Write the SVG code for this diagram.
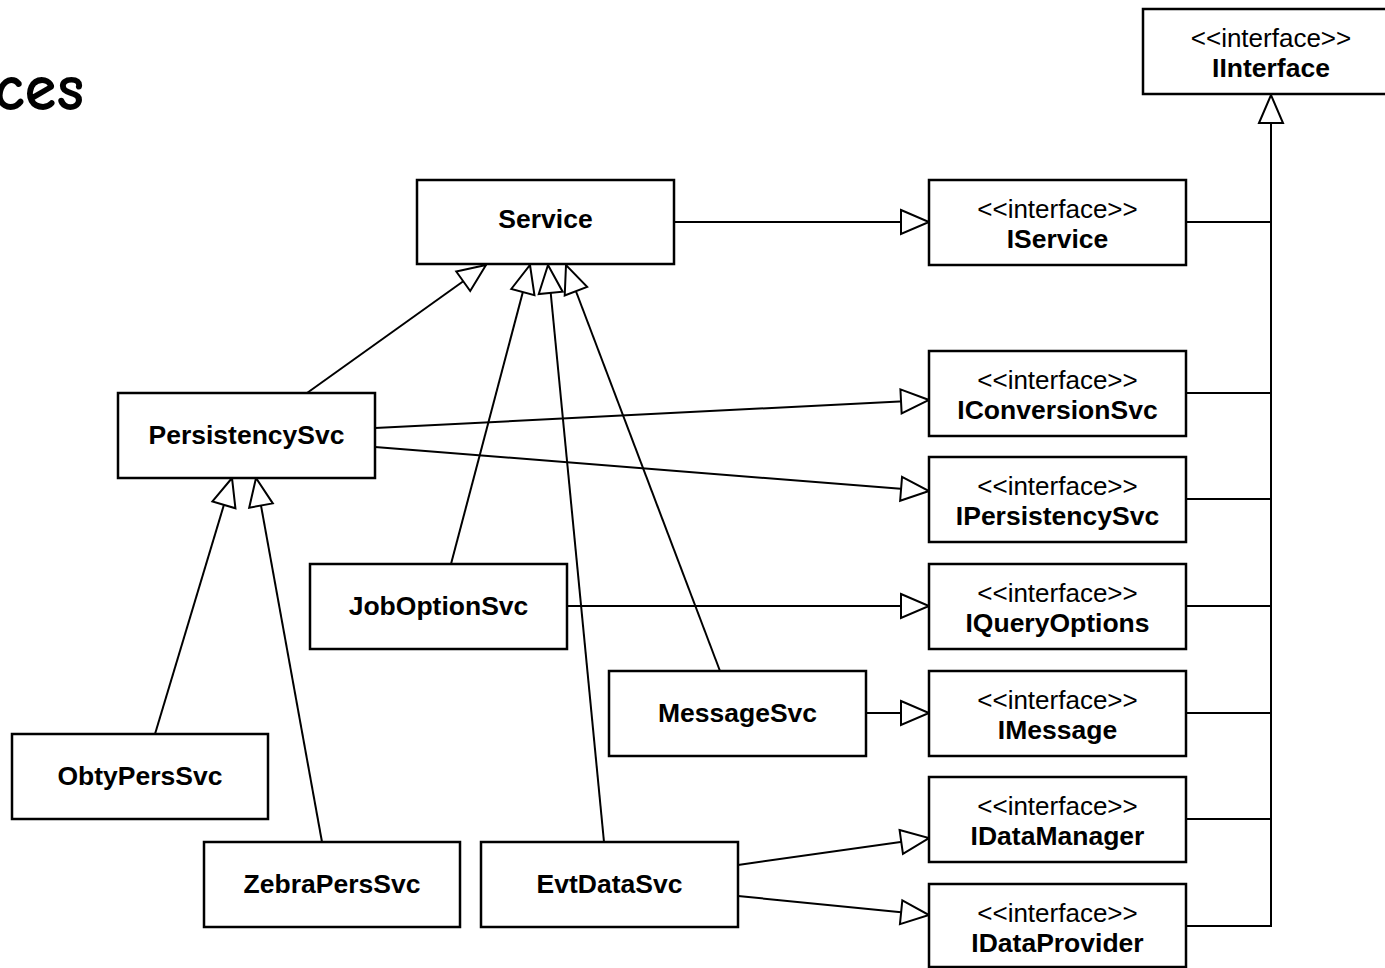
<svg xmlns="http://www.w3.org/2000/svg" width="1385" height="968" viewBox="0 0 1385 968">
  <style>
    .box { fill: #ffffff; stroke: #000000; stroke-width: 2.5; }
    .name { font-family: "Liberation Sans", Arial, sans-serif; font-size: 26.5px; font-weight: bold; text-anchor: middle; fill: #000000; }
    .stereo { font-family: "Liberation Sans", Arial, sans-serif; font-size: 26px; text-anchor: middle; fill: #000000; }
    .link { fill: none; stroke: #000000; stroke-width: 2; marker-end: url(#realize); }
    .bus { fill: none; stroke: #000000; stroke-width: 2; }
    .title { font-family: "Comic Sans MS", "Comic Neue", "DejaVu Sans", sans-serif; font-size: 66px; font-weight: bold; fill: #000000; }
  </style>
  <defs>
    <!-- hollow triangle head used for generalization / realization -->
    <marker id="realize" markerUnits="userSpaceOnUse" markerWidth="34" markerHeight="30" refX="30" refY="14" orient="auto">
      <path d="M2,2 L30,14 L2,26 Z" fill="#ffffff" stroke="#000000" stroke-width="2"/>
    </marker>
  </defs>

  <rect x="0" y="0" width="1385" height="968" fill="#ffffff"/>

  <text class="title" x="-6" y="110" textLength="90" lengthAdjust="spacingAndGlyphs">ces</text>

  <!-- connectors -->
  <g id="connectors">
    <line class="link" x1="674" y1="222" x2="929" y2="222"/>
    <line class="link" x1="307" y1="393" x2="486" y2="265"/>
    <line class="link" x1="451" y1="564" x2="530" y2="265"/>
    <line class="link" x1="604" y1="842" x2="548" y2="265"/>
    <line class="link" x1="720" y1="671" x2="566" y2="265"/>
    <line class="link" x1="375" y1="428" x2="929" y2="400"/>
    <line class="link" x1="375" y1="447" x2="929" y2="491"/>
    <line class="link" x1="567" y1="606" x2="929" y2="606"/>
    <line class="link" x1="866" y1="713" x2="929" y2="713"/>
    <line class="link" x1="738" y1="865" x2="929" y2="838"/>
    <line class="link" x1="738" y1="896" x2="929" y2="915"/>
    <line class="link" x1="155" y1="734" x2="232" y2="478"/>
    <line class="link" x1="322" y1="842" x2="256" y2="478"/>
    <!-- interface bus to IInterface -->
    <line class="bus" x1="1186" y1="222" x2="1271" y2="222"/>
    <line class="bus" x1="1186" y1="393" x2="1271" y2="393"/>
    <line class="bus" x1="1186" y1="499" x2="1271" y2="499"/>
    <line class="bus" x1="1186" y1="606" x2="1271" y2="606"/>
    <line class="bus" x1="1186" y1="713" x2="1271" y2="713"/>
    <line class="bus" x1="1186" y1="819" x2="1271" y2="819"/>
    <line class="bus" x1="1186" y1="926" x2="1272" y2="926"/>
    <line class="link" x1="1271" y1="927" x2="1271" y2="95"/>
  </g>

  <!-- interfaces -->
  <g id="IInterface">
    <rect class="box" x="1143" y="9" width="256" height="85"/>
    <text class="stereo" x="1271" y="47">&lt;&lt;interface&gt;&gt;</text>
    <text class="name" x="1271" y="77">IInterface</text>
  </g>
  <g id="IService">
    <rect class="box" x="929" y="180" width="257" height="85"/>
    <text class="stereo" x="1057.5" y="218">&lt;&lt;interface&gt;&gt;</text>
    <text class="name" x="1057.5" y="248">IService</text>
  </g>
  <g id="IConversionSvc">
    <rect class="box" x="929" y="351" width="257" height="85"/>
    <text class="stereo" x="1057.5" y="389">&lt;&lt;interface&gt;&gt;</text>
    <text class="name" x="1057.5" y="419">IConversionSvc</text>
  </g>
  <g id="IPersistencySvc">
    <rect class="box" x="929" y="457" width="257" height="85"/>
    <text class="stereo" x="1057.5" y="495">&lt;&lt;interface&gt;&gt;</text>
    <text class="name" x="1057.5" y="525">IPersistencySvc</text>
  </g>
  <g id="IQueryOptions">
    <rect class="box" x="929" y="564" width="257" height="85"/>
    <text class="stereo" x="1057.5" y="602">&lt;&lt;interface&gt;&gt;</text>
    <text class="name" x="1057.5" y="632">IQueryOptions</text>
  </g>
  <g id="IMessage">
    <rect class="box" x="929" y="671" width="257" height="85"/>
    <text class="stereo" x="1057.5" y="709">&lt;&lt;interface&gt;&gt;</text>
    <text class="name" x="1057.5" y="739">IMessage</text>
  </g>
  <g id="IDataManager">
    <rect class="box" x="929" y="777" width="257" height="85"/>
    <text class="stereo" x="1057.5" y="815">&lt;&lt;interface&gt;&gt;</text>
    <text class="name" x="1057.5" y="845">IDataManager</text>
  </g>
  <g id="IDataProvider">
    <rect class="box" x="929" y="884" width="257" height="83"/>
    <text class="stereo" x="1057.5" y="922">&lt;&lt;interface&gt;&gt;</text>
    <text class="name" x="1057.5" y="952">IDataProvider</text>
  </g>

  <!-- classes -->
  <g id="Service">
    <rect class="box" x="417" y="180" width="257" height="84"/>
    <text class="name" x="545.5" y="228">Service</text>
  </g>
  <g id="PersistencySvc">
    <rect class="box" x="118" y="393" width="257" height="85"/>
    <text class="name" x="246.5" y="444">PersistencySvc</text>
  </g>
  <g id="JobOptionSvc">
    <rect class="box" x="310" y="564" width="257" height="85"/>
    <text class="name" x="438.5" y="615">JobOptionSvc</text>
  </g>
  <g id="MessageSvc">
    <rect class="box" x="609" y="671" width="257" height="85"/>
    <text class="name" x="737.5" y="722">MessageSvc</text>
  </g>
  <g id="ObtyPersSvc">
    <rect class="box" x="12" y="734" width="256" height="85"/>
    <text class="name" x="140" y="785">ObtyPersSvc</text>
  </g>
  <g id="ZebraPersSvc">
    <rect class="box" x="204" y="842" width="256" height="85"/>
    <text class="name" x="332" y="893">ZebraPersSvc</text>
  </g>
  <g id="EvtDataSvc">
    <rect class="box" x="481" y="842" width="257" height="85"/>
    <text class="name" x="609.5" y="893">EvtDataSvc</text>
  </g>
</svg>
